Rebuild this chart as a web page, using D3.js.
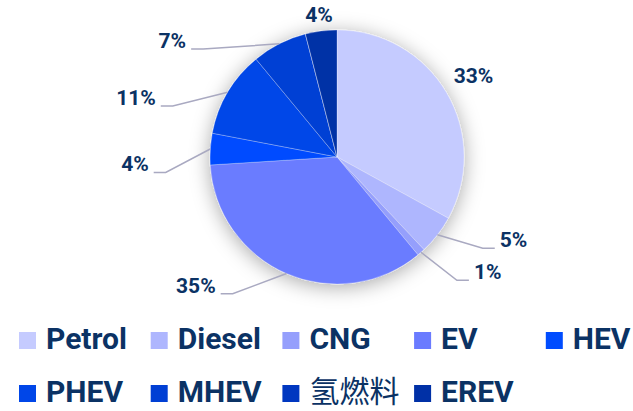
<!DOCTYPE html>
<html>
<head>
<meta charset="utf-8">
<script src="https://cdn.jsdelivr.net/npm/d3@7/dist/d3.min.js"></script>
<style>
  html, body { margin: 0; padding: 0; background: #fff; }
  svg { display: block; }
</style>
</head>
<body>
<div id="chart"></div>
<script>
// fuel types, share of sales (%)
const categories = ['Petrol', 'Diesel', 'CNG', 'EV', 'HEV', 'PHEV', 'MHEV', '氢燃料', 'EREV'];
const values = [33, 5, 1, 35, 4, 11, 7, 0, 4];
const colors = ['#c5cbff', '#aeb6fe', '#959ffc', '#6a7bff', '#004cff', '#0046e8', '#003fd4', '#0037c0', '#0030a6'];
// how each percent label is attached: 'plain' sits next to the slice, 'line' uses a leader line
const labelMode = ['plain', 'line', 'line', 'line', 'line', 'line', 'line', 'none', 'plain'];

const width = 633;
const height = 411;
const cx = 337;
const cy = 157;
const radius = 127;
const textColor = '#0b3264';

let svg = d3.select('#chart')
    .append('svg')
    .attr('width', width)
    .attr('height', height);

let defs = svg.append('defs');
let shadow = defs.append('filter')
    .attr('id', 'shadow')
    .attr('x', '-30%').attr('y', '-30%')
    .attr('width', '160%').attr('height', '160%');
shadow.append('feDropShadow')
    .attr('dx', 0).attr('dy', 3)
    .attr('stdDeviation', 10)
    .attr('flood-color', '#000')
    .attr('flood-opacity', 0.34);

let total = d3.sum(values);
let data = categories.map((c, i) => ({ name: c, value: values[i], color: colors[i], mode: labelMode[i] }));

let pie = d3.pie()
    .value(d => d.value)
    .sort(null)
    .startAngle(0)
    .endAngle(2 * Math.PI);

let arc = d3.arc()
    .innerRadius(0)
    .outerRadius(radius);

let arcs = pie(data);

let g = svg.append('g')
    .attr('transform', 'translate(' + cx + ',' + cy + ')');

g.append('g')
    .attr('filter', 'url(#shadow)')
    .selectAll('path')
    .data(arcs)
    .enter()
    .append('path')
    .attr('d', arc)
    .attr('fill', d => d.data.color)
    .attr('stroke', 'rgba(255,255,255,0.45)')
    .attr('stroke-width', 0.6);

// label layout
function polar(a, r) {
    return [r * Math.sin(a), -r * Math.cos(a)];
}

let lineLen = 22;
let bendR = radius + 45;
let topBound = 49 - cy;
let labels = arcs.filter(d => d.data.value > 0).map(d => {
    let a = (d.startAngle + d.endAngle) / 2;
    let dir = Math.sin(a) >= 0 ? 1 : -1;
    let p0 = polar(a, radius);
    return { d: d, a: a, dir: dir, p0: p0, y: polar(a, radius + lineLen)[1],
        text: Math.round(d.data.value / total * 100) + '%' };
});

let lineLabels = labels.filter(l => l.d.data.mode === 'line');
[-1, 1].forEach(dir => {
    // upper half on this side: push down together when it runs over the top
    let upper = lineLabels.filter(l => l.dir === dir && l.y < 0);
    if (upper.length) {
        let minY = d3.min(upper, l => l.y);
        if (minY < topBound) upper.forEach(l => { l.y += topBound - minY; });
    }
    // lower half: keep a minimum gap going down
    let lower = lineLabels.filter(l => l.dir === dir && l.y >= 0).sort((a, b) => a.y - b.y);
    for (let i = 1; i < lower.length; i++) {
        if (lower[i].y - lower[i - 1].y < 32) lower[i].y = lower[i - 1].y + 32;
    }
});

lineLabels.forEach(l => {
    let dy = Math.abs(l.y);
    let bx = dy < bendR ? l.dir * Math.sqrt(bendR * bendR - dy * dy) : l.p0[0] + l.dir * 8;
    if (l.dir * (bx - l.p0[0]) < 8) bx = l.p0[0] + l.dir * 8;
    l.points = [l.p0, [bx, l.y], [bx + l.dir * 12, l.y]];
    l.tx = bx + l.dir * 17;
    l.ty = l.y - 1;
    l.anchor = l.dir > 0 ? 'start' : 'end';
});

let labelG = g.append('g');

labelG.selectAll('polyline')
    .data(lineLabels)
    .enter()
    .append('polyline')
    .attr('points', l => l.points.map(p => p.join(',')).join(' '))
    .attr('fill', 'none')
    .attr('stroke', '#a9a9c1')
    .attr('stroke-width', 1.5);

labelG.selectAll('text.line-label')
    .data(lineLabels)
    .enter()
    .append('text')
    .attr('class', 'line-label')
    .attr('x', l => l.tx)
    .attr('y', l => l.ty)
    .attr('text-anchor', l => l.anchor)
    .attr('font-family', 'Roboto, sans-serif')
    .attr('font-weight', 700)
    .attr('font-size', 21)
    .attr('fill', textColor)
    .text(l => l.text);

// labels without a leader line sit just outside the slice, offset by their own box
let plain = labels.filter(l => l.d.data.mode === 'plain');
labelG.selectAll('text.plain-label')
    .data(plain)
    .enter()
    .append('text')
    .attr('class', 'plain-label')
    .attr('text-anchor', 'middle')
    .attr('dominant-baseline', 'central')
    .attr('font-family', 'Roboto, sans-serif')
    .attr('font-weight', 700)
    .attr('font-size', 21)
    .attr('fill', textColor)
    .text(l => l.text)
    .each(function (l) {
        let bb = this.getBBox();
        let off = bb.width / 2 * 1.2 * Math.abs(Math.sin(l.a)) + bb.height / 2 * 0.5 * Math.abs(Math.cos(l.a));
        let p = polar(l.a, radius + 8 + off);
        d3.select(this).attr('x', p[0]).attr('y', p[1]);
    });

// legend, 5 items a row
let legendX = d3.scaleBand().domain(d3.range(5)).range([19, 19 + 5 * 131.7]).paddingInner(0);
let legend = svg.append('g')
    .selectAll('g')
    .data(data)
    .enter()
    .append('g')
    .attr('transform', (d, i) => 'translate(' + legendX(i % 5) + ',' + (332 + Math.floor(i / 5) * 53) + ')');

legend.append('rect')
    .attr('width', 17)
    .attr('height', 17)
    .attr('fill', d => d.color);

legend.append('text')
    .attr('x', 27)
    .attr('y', 17)
    .attr('font-family', d => /[\u4e00-\u9fff]/.test(d.name) ? '"Noto Sans CJK SC", sans-serif' : 'Roboto, sans-serif')
    .attr('font-weight', d => /[\u4e00-\u9fff]/.test(d.name) ? 400 : 700)
    .attr('font-size', 30)
    .attr('fill', textColor)
    .text(d => d.name);
</script>
</body>
</html>
